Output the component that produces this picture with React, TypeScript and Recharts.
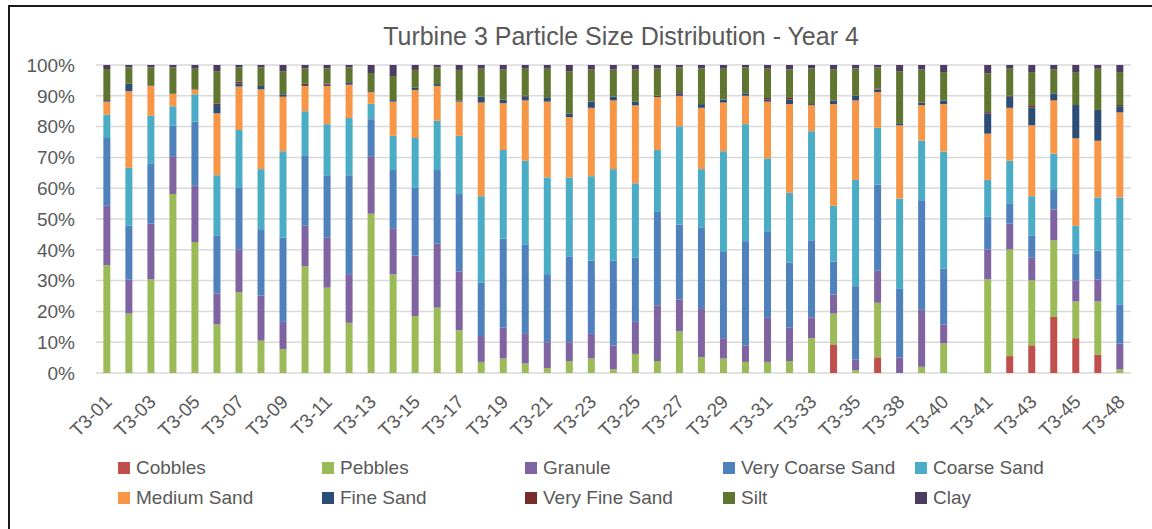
import React from "react";
import {
  BarChart,
  Bar,
  XAxis,
  YAxis,
  CartesianGrid,
  Legend,
} from "recharts";

const categories = [
  "T3-01", "T3-02", "T3-03", "T3-04", "T3-05", "T3-06", "T3-07", "T3-08",
  "T3-09", "T3-10", "T3-11", "T3-12", "T3-13", "T3-14", "T3-15", "T3-16",
  "T3-17", "T3-18", "T3-19", "T3-20", "T3-21", "T3-22", "T3-23", "T3-24",
  "T3-25", "T3-26", "T3-27", "T3-28", "T3-29", "T3-30", "T3-31", "T3-32",
  "T3-33", "T3-34", "T3-35", "T3-36", "T3-38", "T3-39", "T3-40", "",
  "T3-41", "T3-42", "T3-43", "T3-44", "T3-45", "T3-46", "T3-48",
];

const cobbles = [
  0, 0, 0, 0, 0, 0, 0, 0, 0, 0, 0, 0, 0, 0, 0, 0,
  0, 0, 0, 0, 0, 0, 0, 0, 0, 0, 0, 0, 0, 0, 0, 0,
  0, 9.3, 0, 5.1, 0, 0, 0, 0, 0, 5.5, 9.0, 18.2, 11.3, 5.9, 0,
];
const pebbles = [
  35, 19.3, 30.4, 58.1, 42.5, 15.8, 26.2, 10.5, 7.7, 34.7, 27.7, 16.3, 51.7, 32, 18.5, 21.2,
  13.9, 3.6, 4.7, 3.1, 1.6, 3.9, 4.7, 1.2, 6.2, 3.9, 13.5, 5.1, 4.7, 3.6, 3.6, 3.9,
  11.3, 10, 0.9, 17.7, 0, 2, 9.6, 0, 30.4, 34.6, 21.1, 24.9, 11.9, 17.3, 1.2,
];
const granule = [
  19.3, 11, 18.1, 12.3, 18.3, 10, 13.9, 14.6, 8.9, 13.1, 16.2, 15.8, 18.7, 15, 19.6, 20.8,
  19.1, 8.4, 10, 9.6, 8.4, 6.1, 8, 7.7, 10.4, 18.1, 10.4, 15.7, 6.6, 5.3, 14.3, 10.8,
  6.8, 6.2, 3.4, 10.4, 5.1, 18.5, 6.2, 0, 9.7, 8.4, 7.3, 10, 6.9, 7.2, 8.3,
];
const veryCoarseSand = [
  22, 17.5, 19.6, 10, 20.8, 18.9, 20, 21.6, 27.3, 22.9, 20.3, 32.1, 12, 18.9, 22, 23.9,
  25.1, 17.3, 28.9, 28.9, 22.1, 27.7, 23.8, 27.6, 20.8, 30.3, 24.3, 26.5, 28, 33.9, 27.9, 21.2,
  25, 10.7, 23.9, 28, 22.2, 35.6, 18.1, 0, 10.6, 6.6, 7.3, 6.6, 8.6, 9.3, 12.8,
];
const coarseSand = [
  7.6, 18.8, 15.4, 6.2, 8.9, 19.5, 18.8, 19.5, 28.1, 14.3, 16.6, 18.6, 5, 11.1, 16.2, 16,
  18.9, 28.1, 28.8, 27.3, 31.4, 25.8, 27.4, 29.7, 24.2, 20.1, 31.9, 18.9, 32.7, 38, 23.9, 22.6,
  35.4, 18.1, 34.5, 18.4, 29.3, 19.3, 38, 0, 12, 13.8, 12.7, 11.5, 9.1, 17.3, 34.7,
];
const mediumSand = [
  4.2, 24.9, 9.7, 4, 1.5, 20.1, 14.1, 25.9, 17.7, 8.2, 12.4, 10.8, 3.8, 11.1, 15.6, 11.3,
  11.1, 30.4, 15.2, 19.6, 24.6, 19.6, 22.2, 22.3, 25.3, 17.2, 9.9, 19.9, 15.8, 9.2, 18.4, 28.8,
  8.4, 33, 25.8, 11.6, 23.8, 11.6, 15.4, 0, 15, 17.2, 23, 17.3, 28.4, 18.4, 27.6,
];
const fineSand = [
  0.5, 2.4, 0.2, 0.2, 0, 2.7, 1, 1.1, 0.8, 0.3, 0.4, 0.8, 0.3, 0.5, 0.7, 0.6,
  0.4, 1.9, 1.2, 1.2, 1.2, 1.2, 2, 1.2, 1.2, 0.4, 0.8, 1.2, 1, 0.8, 0.7, 1.5,
  0.4, 1.2, 1.5, 0.8, 0.7, 0.8, 1.2, 0, 6.6, 3.6, 5.8, 2.3, 10.8, 10, 2,
];
const veryFineSand = [
  0, 0, 0, 0, 0, 0.4, 0.6, 0, 0, 0.4, 0.4, 0, 0, 0, 0, 0,
  0, 0, 0, 0.3, 0, 0, 0, 0, 0, 0, 0.4, 0, 0, 0, 0.5, 0.5,
  0, 0, 0, 0.4, 0, 0, 0, 0, 0.4, 0.3, 0.5, 0, 0, 0, 0.4,
];
const silt = [
  10.1, 5.3, 5.8, 8.4, 6.8, 10.6, 4.6, 6, 7.5, 5, 4.9, 4.8, 5.9, 7.8, 5.8, 5.4,
  9.9, 9.1, 9.7, 8.8, 9.5, 13.7, 10.4, 8.8, 10.4, 8.9, 8, 11.6, 10, 8.4, 9.5, 9.2,
  11.6, 10, 8.9, 6.8, 16.9, 10.7, 9.2, 0, 12.6, 8.8, 11, 7.7, 10.7, 13.4, 10.7,
];
const clay = [
  1.3, 0.8, 0.8, 0.8, 1.2, 2, 0.8, 0.8, 2, 1.1, 1.1, 0.8, 2.6, 3.6, 1.6, 0.8,
  1.6, 1.2, 1.5, 1.2, 1.2, 2, 1.5, 1.5, 1.5, 1.1, 0.8, 1.1, 1.2, 0.8, 1.2, 1.5,
  1.1, 1.5, 1.1, 0.8, 2, 1.5, 2.3, 0, 2.7, 1.2, 2.3, 1.5, 2.3, 1.2, 2.3,
];

const yTicks = [0, 0.1, 0.2, 0.3, 0.4, 0.5, 0.6, 0.7, 0.8, 0.9, 1];

const SERIES = [
  { key: "cobbles", name: "Cobbles", values: cobbles, color: "#C0504D" },
  { key: "pebbles", name: "Pebbles", values: pebbles, color: "#9BBB59" },
  { key: "granule", name: "Granule", values: granule, color: "#8064A2" },
  { key: "vcs", name: "Very Coarse Sand", values: veryCoarseSand, color: "#4F81BD" },
  { key: "cs", name: "Coarse Sand", values: coarseSand, color: "#4BACC6" },
  { key: "ms", name: "Medium Sand", values: mediumSand, color: "#F79646" },
  { key: "fs", name: "Fine Sand", values: fineSand, color: "#2C4D75" },
  { key: "vfs", name: "Very Fine Sand", values: veryFineSand, color: "#772C2A" },
  { key: "silt", name: "Silt", values: silt, color: "#5F7530" },
  { key: "clay", name: "Clay", values: clay, color: "#4D3B62" },
];

const data = categories.map((name, i) => {
  const row: any = { name };
  SERIES.forEach((s) => {
    row[s.key] = s.values[i];
  });
  return row;
});

const FONT = "'Liberation Sans', Arial, sans-serif";
const TEXT = "#595959";

const XTick = ({ x, y, payload }: any) => {
  const tx = x + 6;
  const ty = y + 30;
  return (
    <text
      x={tx}
      y={ty}
      transform={`rotate(-45, ${tx}, ${ty})`}
      textAnchor="end"
      fill={TEXT}
      fontSize={19}
      fontFamily={FONT}
    >
      {payload.value}
    </text>
  );
};

const legendCols = [204, 203, 198, 192, 200];

const ChartLegend = () => (
  <div
    style={{
      height: 62,
      position: "relative",
      fontFamily: FONT,
      fontSize: 19,
      color: TEXT,
    }}
  >
    {SERIES.map((s, i) => {
      const col = i % 5;
      const row = Math.floor(i / 5);
      const left = 92 + legendCols.slice(0, col).reduce((a, b) => a + b, 0);
      return (
        <div
          key={s.key}
          style={{
            position: "absolute",
            left,
            top: row * 30,
            height: 30,
            display: "flex",
            alignItems: "center",
            whiteSpace: "nowrap",
          }}
        >
          <span
            style={{
              display: "inline-block",
              width: 12,
              height: 12,
              background: s.color,
              marginRight: 6,
            }}
          />
          {s.name}
        </div>
      );
    })}
  </div>
);

export default function App() {
  return (
    <div
      style={{
        position: "absolute",
        left: 0,
        top: 0,
        width: 1152,
        height: 529,
        overflow: "hidden",
        background: "#fff",
      }}
    >
      <div
        style={{
          position: "absolute",
          left: 8,
          top: 5,
          width: 1300,
          height: 700,
          border: "2px solid #1a1a1a",
        }}
      />
      <div style={{ position: "absolute", left: 0, top: 0 }}>
        <BarChart
          width={1152}
          height={529}
          data={data}
          stackOffset="expand"
          barCategoryGap="33.4%"
          margin={{ top: 65, right: 21, left: 26, bottom: 14 }}
        >
          <text
            x={621}
            y={44.5}
            textAnchor="middle"
            fill={TEXT}
            fontSize={25}
            fontFamily={FONT}
          >
            Turbine 3 Particle Size Distribution - Year 4
          </text>
          <CartesianGrid vertical={false} stroke="#d9d9d9" strokeWidth={1.5} />
          <XAxis
            dataKey="name"
            interval={1}
            height={80}
            tickLine={false}
            axisLine={false}
            tickSize={0}
            tickMargin={0}
            tick={<XTick />}
          />
          <YAxis
            width={70}
            domain={[0, 1]}
            ticks={yTicks}
            tickFormatter={(v: number) => `${Math.round(v * 100)}%`}
            tickLine={false}
            axisLine={false}
            tickSize={0}
            tickMargin={21}
            tick={{ fill: TEXT, fontSize: 19, fontFamily: FONT }}
          />
          <Legend verticalAlign="bottom" content={<ChartLegend />} />
          {SERIES.map((s) => (
            <Bar
              key={s.key}
              dataKey={s.key}
              name={s.name}
              stackId="a"
              fill={s.color}
              isAnimationActive={false}
            />
          ))}
        </BarChart>
      </div>
    </div>
  );
}
